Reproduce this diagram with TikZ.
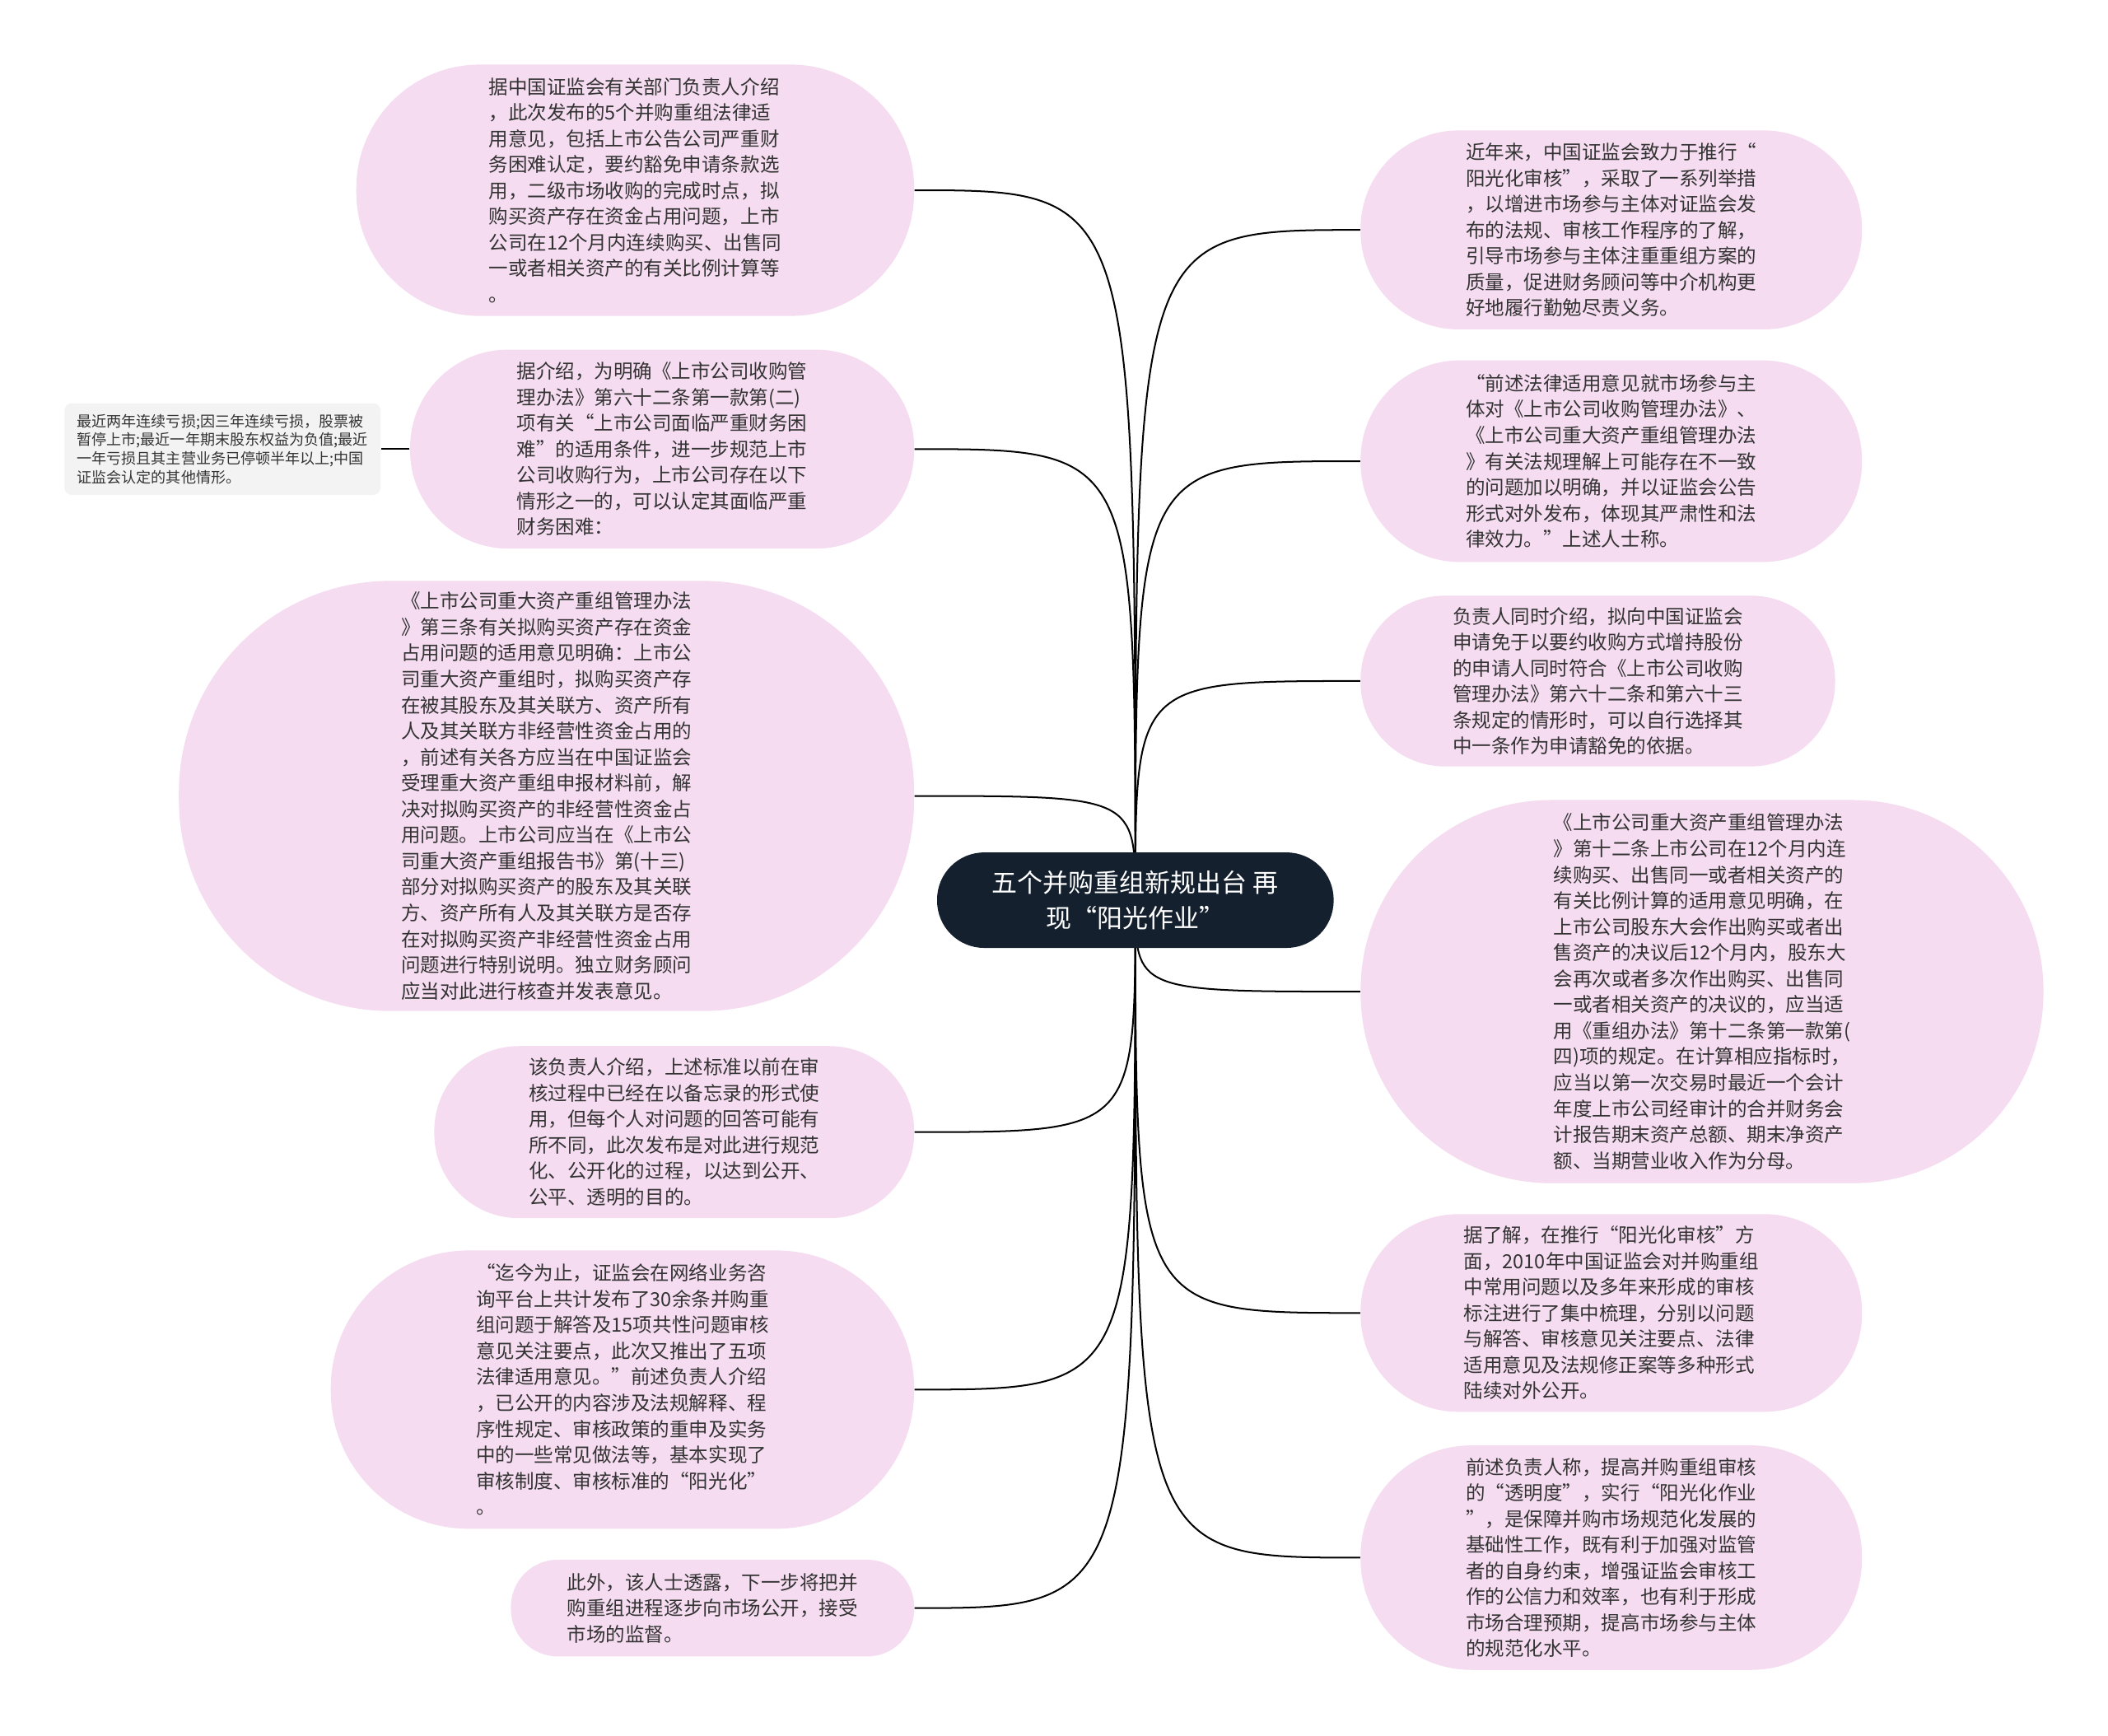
\documentclass[tikz,border=0pt]{standalone}
\usepackage{fontspec}
\setmainfont{Noto Sans CJK SC}
\usetikzlibrary{backgrounds}

\definecolor{bubblepink}{HTML}{F5DCF0}
\definecolor{rootnavy}{HTML}{15202F}
\definecolor{notegray}{HTML}{F3F3F3}
\definecolor{inkgray}{HTML}{333333}

\begin{document}
\begin{tikzpicture}[x=0.02cm, y=-0.02cm,
  bubble/.style={fill=bubblepink, text=inkgray, align=left, inner sep=2pt,
    font=\fontsize{8.2pt}{11pt}\selectfont},
  link/.style={draw=black, line width=0.7pt},
  branch/.style={to path={.. controls (\tikztostart |- \tikztotarget) and (\tikztostart |- \tikztotarget) .. (\tikztotarget)}}]
\useasboundingbox (0,0) rectangle (1568,1291);

% --- Central topic ---
\node[fill=rootnavy, text=white, align=center, minimum width=5.9cm, minimum height=1.42cm,
  rounded corners=0.70cm, font=\fontsize{10.8pt}{14.8pt}\selectfont] (root) at (844.5,669.5)
  {五个并购重组新规出台 再\\现“阳光作业”};

% --- Left branches ---
\node[bubble, minimum width=8.3cm, minimum height=3.74cm, rounded corners=1.84cm] (l1) at (472.5,141.5)
  {据中国证监会有关部门负责人介绍\\
   ，此次发布的5个并购重组法律适\\
   用意见，包括上市公告公司严重财\\
   务困难认定，要约豁免申请条款选\\
   用，二级市场收购的完成时点，拟\\
   购买资产存在资金占用问题，上市\\
   公司在12个月内连续购买、出售同\\
   一或者相关资产的有关比例计算等\\
   。};

\node[bubble, minimum width=7.5cm, minimum height=2.96cm, rounded corners=1.46cm] (l2) at (492.5,334)
  {据介绍，为明确《上市公司收购管\\
   理办法》第六十二条第一款第(二)\\
   项有关“上市公司面临严重财务困\\
   难”的适用条件，进一步规范上市\\
   公司收购行为，上市公司存在以下\\
   情形之一的，可以认定其面临严重\\
   财务困难：};

\node[fill=notegray, text=inkgray, align=left, inner sep=2pt, minimum width=4.7cm, minimum height=1.36cm,
  rounded corners=0.1cm, font=\fontsize{6.3pt}{7.9pt}\selectfont] (note) at (165.5,334)
  {最近两年连续亏损;因三年连续亏损，股票被\\
   暂停上市;最近一年期末股东权益为负值;最近\\
   一年亏损且其主营业务已停顿半年以上;中国\\
   证监会认定的其他情形。};

\node[bubble, minimum width=10.94cm, minimum height=6.4cm, rounded corners=3.15cm] (l3) at (406.5,592)
  {《上市公司重大资产重组管理办法\\
   》第三条有关拟购买资产存在资金\\
   占用问题的适用意见明确：上市公\\
   司重大资产重组时，拟购买资产存\\
   在被其股东及其关联方、资产所有\\
   人及其关联方非经营性资金占用的\\
   ，前述有关各方应当在中国证监会\\
   受理重大资产重组申报材料前，解\\
   决对拟购买资产的非经营性资金占\\
   用问题。上市公司应当在《上市公\\
   司重大资产重组报告书》第(十三)\\
   部分对拟购买资产的股东及其关联\\
   方、资产所有人及其关联方是否存\\
   在对拟购买资产非经营性资金占用\\
   问题进行特别说明。独立财务顾问\\
   应当对此进行核查并发表意见。};

\node[bubble, minimum width=7.14cm, minimum height=2.56cm, rounded corners=1.26cm] (l4) at (501.5,842)
  {该负责人介绍，上述标准以前在审\\
   核过程中已经在以备忘录的形式使\\
   用，但每个人对问题的回答可能有\\
   所不同，此次发布是对此进行规范\\
   化、公开化的过程，以达到公开、\\
   公平、透明的目的。};

\node[bubble, minimum width=8.68cm, minimum height=4.14cm, rounded corners=2.05cm] (l5) at (463,1033.5)
  {“迄今为止，证监会在网络业务咨\\
   询平台上共计发布了30余条并购重\\
   组问题于解答及15项共性问题审核\\
   意见关注要点，此次又推出了五项\\
   法律适用意见。”前述负责人介绍\\
   ，已公开的内容涉及法规解释、程\\
   序性规定、审核政策的重申及实务\\
   中的一些常见做法等，基本实现了\\
   审核制度、审核标准的“阳光化”\\
   。};

\node[bubble, minimum width=6.0cm, minimum height=1.44cm, rounded corners=0.7cm] (l6) at (530,1196)
  {此外，该人士透露，下一步将把并\\
   购重组进程逐步向市场公开，接受\\
   市场的监督。};

% --- Right branches ---
\node[bubble, minimum width=7.46cm, minimum height=2.96cm, rounded corners=1.46cm] (r1) at (1198.5,171)
  {近年来，中国证监会致力于推行“\\
   阳光化审核”，采取了一系列举措\\
   ，以增进市场参与主体对证监会发\\
   布的法规、审核工作程序的了解，\\
   引导市场参与主体注重重组方案的\\
   质量，促进财务顾问等中介机构更\\
   好地履行勤勉尽责义务。};

\node[bubble, minimum width=7.46cm, minimum height=3.0cm, rounded corners=1.48cm] (r2) at (1198.5,343)
  {“前述法律适用意见就市场参与主\\
   体对《上市公司收购管理办法》、\\
   《上市公司重大资产重组管理办法\\
   》有关法规理解上可能存在不一致\\
   的问题加以明确，并以证监会公告\\
   形式对外发布，体现其严肃性和法\\
   律效力。”上述人士称。};

\node[bubble, minimum width=7.06cm, minimum height=2.54cm, rounded corners=1.25cm] (r3) at (1188.5,506.5)
  {负责人同时介绍，拟向中国证监会\\
   申请免于以要约收购方式增持股份\\
   的申请人同时符合《上市公司收购\\
   管理办法》第六十二条和第六十三\\
   条规定的情形时，可以自行选择其\\
   中一条作为申请豁免的依据。};

\node[bubble, minimum width=10.16cm, minimum height=5.7cm, rounded corners=2.83cm] (r4) at (1266,737.5)
  {《上市公司重大资产重组管理办法\\
   》第十二条上市公司在12个月内连\\
   续购买、出售同一或者相关资产的\\
   有关比例计算的适用意见明确，在\\
   上市公司股东大会作出购买或者出\\
   售资产的决议后12个月内，股东大\\
   会再次或者多次作出购买、出售同\\
   一或者相关资产的决议的，应当适\\
   用《重组办法》第十二条第一款第(\\
   四)项的规定。在计算相应指标时，\\
   应当以第一次交易时最近一个会计\\
   年度上市公司经审计的合并财务会\\
   计报告期末资产总额、期末净资产\\
   额、当期营业收入作为分母。};

\node[bubble, minimum width=7.46cm, minimum height=2.94cm, rounded corners=1.45cm] (r5) at (1198.5,976.5)
  {据了解，在推行“阳光化审核”方\\
   面，2010年中国证监会对并购重组\\
   中常用问题以及多年来形成的审核\\
   标注进行了集中梳理，分别以问题\\
   与解答、审核意见关注要点、法律\\
   适用意见及法规修正案等多种形式\\
   陆续对外公开。};

\node[bubble, minimum width=7.46cm, minimum height=3.34cm, rounded corners=1.65cm] (r6) at (1198.5,1158.5)
  {前述负责人称，提高并购重组审核\\
   的“透明度”，实行“阳光化作业\\
   ”，是保障并购市场规范化发展的\\
   基础性工作，既有利于加强对监管\\
   者的自身约束，增强证监会审核工\\
   作的公信力和效率，也有利于形成\\
   市场合理预期，提高市场参与主体\\
   的规范化水平。};

% --- Connectors ---
\begin{scope}[on background layer]
\foreach \n in {l1,l2,l3,l4,l5,l6}
    \draw[link] (root.center) to[branch] (\n.east);
\foreach \n in {r1,r2,r3,r4,r5,r6}
    \draw[link] (root.center) to[branch] (\n.west);
\draw[link] (l2.west) -- (note.east);
\end{scope}
\end{tikzpicture}
\end{document}
